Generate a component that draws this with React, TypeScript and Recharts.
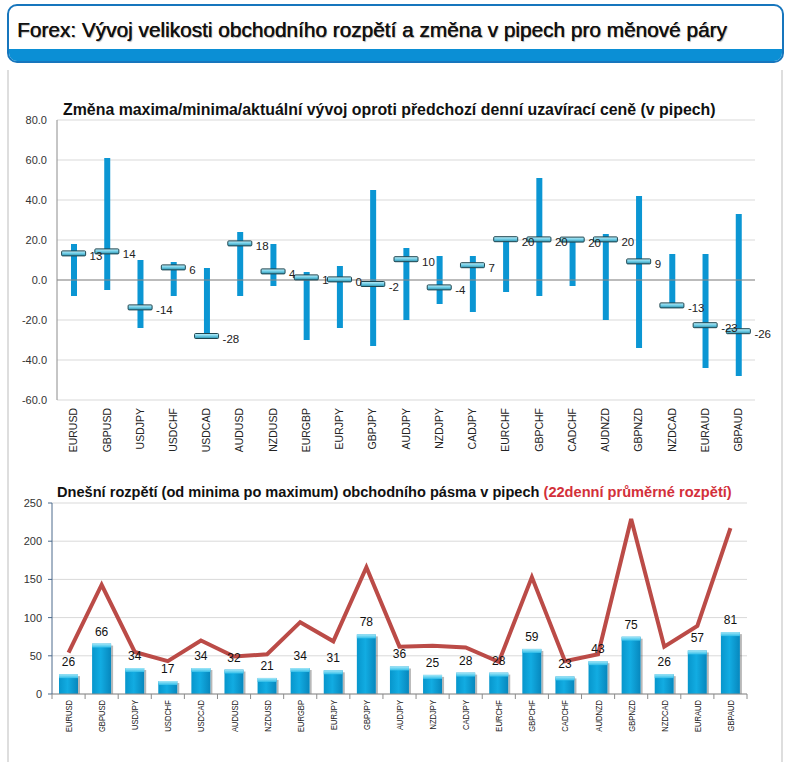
import React from 'react'
import { ComposedChart, Bar, Line, XAxis, YAxis, CartesianGrid, ReferenceLine, LabelList } from 'recharts'

const pairs = [
  'EURUSD', 'GBPUSD', 'USDJPY', 'USDCHF', 'USDCAD', 'AUDUSD', 'NZDUSD', 'EURGBP', 'EURJPY', 'GBPJPY', 'AUDJPY',
  'NZDJPY', 'CADJPY', 'EURCHF', 'GBPCHF', 'CADCHF', 'AUDNZD', 'GBPNZD', 'NZDCAD', 'EURAUD', 'GBPAUD',
]

// top chart: daily high / low / current change vs previous close (pips)
const highs = [18, 61, 10, 9, 6, 24, 18, 4, 7, 45, 16, 12, 12, 21, 51, 20, 23, 42, 13, 13, 33]
const lows = [-8, -5, -24, -8, -28, -8, -3, -30, -24, -33, -20, -12, -16, -6, -8, -3, -20, -34, -13, -44, -48]
const current = [13.3, 14.3, -13.7, 6.3, -28, 18.3, 4.3, 1.3, 0.3, -2, 10.4, -3.7, 7.4, 20.4, 20.3, 20.2, 20.3, 9.3, -12.7, -22.6, -25.6]
const topTicks = [-60, -40, -20, 0, 20, 40, 60, 80]

// bottom chart: today's range and 22-day average range
const spread = [26, 66, 34, 17, 34, 32, 21, 34, 31, 78, 36, 25, 28, 28, 59, 23, 43, 75, 26, 57, 81]
const avgRange = [54, 143, 55, 43, 70, 49, 52, 94, 69, 166, 62, 63, 61, 42, 153, 43, 52, 229, 62, 89, 217]
const bottomTicks = [0, 50, 100, 150, 200, 250]

const topData = pairs.map((p, i) => ({ pair: p, range: [lows[i], highs[i]], cur: current[i] }))
const bottomData = pairs.map((p, i) => ({ pair: p, spread: spread[i], avg: avgRange[i] }))

const FONT = '"Liberation Sans", Arial, sans-serif'
const BOTTOM_BAND = 695 / pairs.length

const TopTick = (props: any) => {
  const { x, y, payload } = props
  const ty = y + 8
  return (
    <text x={x} y={ty} transform={`rotate(-90, ${x}, ${ty})`} textAnchor="end" dy="0.35em"
      fontSize={10.5} fill="#222" fontFamily={FONT}>
      {payload.value}
    </text>
  )
}

const BottomTick = (props: any) => {
  const { x, y, payload, index } = props
  const ty = y + 6
  const last = index === pairs.length - 1
  return (
    <g>
      <line x1={x - BOTTOM_BAND / 2} x2={x - BOTTOM_BAND / 2} y1={y} y2={y + 5} stroke="#8c8c8c" />
      {last && <line x1={x + BOTTOM_BAND / 2} x2={x + BOTTOM_BAND / 2} y1={y} y2={y + 5} stroke="#8c8c8c" />}
      <text transform={`translate(${x}, ${ty}) rotate(-90) scale(0.8, 1.05)`} textAnchor="end" dy="0.35em"
        fontSize={9.5} fill="#222" fontFamily={FONT}>
        {payload.value}
      </text>
    </g>
  )
}

const Marker = (props: any) => {
  const { cx, cy, index } = props
  if (cx == null || cy == null) return <g key={index} />
  return (
    <rect key={index} x={cx - 12} y={cy - 2.5} width={24} height={5} rx={1}
      fill="url(#markerFill)" stroke="#1f4650" strokeWidth={1} />
  )
}

const MarkerLabel = (props: any) => {
  const { x, y, value } = props
  return (
    <text x={x + 16} y={y + 3} dy="0.35em" fontSize={11.5} fill="#222" fontFamily={FONT}>
      {Math.round(value)}
    </text>
  )
}

const CylBar = (props: any) => {
  const { x, y, width, height } = props
  if (!height || height <= 0) return null
  return (
    <g>
      <rect x={x + width} y={y + 2} width={2} height={height - 2} fill="#333" opacity={0.35} />
      <rect x={x} y={y} width={width} height={height} fill="url(#barBody)" />
      <rect x={x} y={y} width={width} height={4} fill="url(#barCap)" />
    </g>
  )
}

export default function App() {
  return (
    <div style={{ position: 'absolute', left: 0, top: 0, width: 798, height: 762, background: '#fff', overflow: 'hidden', fontFamily: FONT }}>
      <svg width={0} height={0} style={{ position: 'absolute' }}>
        <defs>
          <linearGradient id="markerFill" x1="0" y1="0" x2="0" y2="1">
            <stop offset="0%" stopColor="#c4f0fa" />
            <stop offset="50%" stopColor="#6fcde6" />
            <stop offset="100%" stopColor="#2b8eaa" />
          </linearGradient>
          <linearGradient id="barBody" x1="0" y1="0" x2="1" y2="0">
            <stop offset="0%" stopColor="#0796cc" />
            <stop offset="45%" stopColor="#12ace2" />
            <stop offset="100%" stopColor="#0787bd" />
          </linearGradient>
          <linearGradient id="barCap" x1="0" y1="0" x2="0" y2="1">
            <stop offset="0%" stopColor="#a5e8f8" />
            <stop offset="100%" stopColor="#30bde9" />
          </linearGradient>
        </defs>
      </svg>

      {/* header */}
      <div style={{ position: 'absolute', left: 7, top: 4, width: 773, height: 55, border: '2px solid #1776bd', borderRadius: 10, overflow: 'hidden', background: '#fff' }}>
        <div style={{ position: 'absolute', left: 0, right: 0, bottom: 0, height: 12, background: '#0b8fd5' }} />
        <div style={{ position: 'absolute', left: 8, top: 13, fontSize: 20.8, lineHeight: '21px', color: '#111', whiteSpace: 'nowrap', textShadow: '0.4px 0 0 #111, 1px 1px 1px rgba(0,0,0,0.35)' }}>
          Forex: Vývoj velikosti obchodního rozpětí a změna v pipech pro měnové páry
        </div>
      </div>

      {/* panel borders */}
      <div style={{ position: 'absolute', left: 7, top: 70, width: 2, height: 692, background: '#dedede' }} />
      <div style={{ position: 'absolute', left: 781, top: 70, width: 2, height: 692, background: '#dedede' }} />

      {/* titles */}
      <div style={{ position: 'absolute', left: 63, top: 101.5, fontSize: 15.9, lineHeight: '16px', fontWeight: 'bold', color: '#111', whiteSpace: 'nowrap' }}>
        Změna maxima/minima/aktuální vývoj oproti předchozí denní uzavírací ceně (v pipech)
      </div>
      <div style={{ position: 'absolute', left: 57, top: 483.5, fontSize: 14.6, lineHeight: '16px', fontWeight: 'bold', color: '#111', whiteSpace: 'nowrap' }}>
        Dnešní rozpětí (od minima po maximum) obchodního pásma v pipech{' '}
        <span style={{ color: '#d3303a' }}>(22denní průměrné rozpětí)</span>
      </div>

      {/* top chart */}
      <div style={{ position: 'absolute', left: 0, top: 88 }}>
        <ComposedChart width={798} height={372} data={topData} margin={{ top: 32, right: 43, bottom: 0, left: 0 }}>
          <CartesianGrid vertical={false} stroke="#d9d9d9" />
          <XAxis dataKey="pair" axisLine={false} tickLine={false} tickSize={0} tickMargin={0} interval={0} height={60} tick={<TopTick />} />
          <YAxis width={57} domain={[-60, 80]} ticks={topTicks} tickFormatter={(v: number) => v.toFixed(1)}
            axisLine={{ stroke: '#8c8c8c' }} tickLine={false} tickMargin={4}
            tick={{ fontSize: 11, fill: '#333', fontFamily: FONT }} />
          <ReferenceLine y={0} stroke="#8a8a8a" />
          <Bar dataKey="range" fill="#0b96d3" barSize={6} isAnimationActive={false} />
          <Line dataKey="cur" stroke="none" dot={<Marker />} activeDot={false} isAnimationActive={false}>
            <LabelList dataKey="cur" content={<MarkerLabel />} />
          </Line>
        </ComposedChart>
      </div>

      {/* bottom chart */}
      <div style={{ position: 'absolute', left: 0, top: 470 }}>
        <ComposedChart width={798} height={292} data={bottomData} margin={{ top: 33, right: 51, bottom: 0, left: 0 }}>
          <CartesianGrid vertical={false} stroke="#d9d9d9" />
          <XAxis dataKey="pair" axisLine={{ stroke: '#8c8c8c' }} tickLine={false} tickSize={0} tickMargin={0} interval={0} height={68} tick={<BottomTick />} />
          <YAxis width={52} domain={[0, 250]} ticks={bottomTicks} axisLine={{ stroke: '#4c6a8c' }}
            tickLine={{ stroke: '#4c6a8c' }} tickSize={4} tickMargin={6}
            tick={{ fontSize: 11, fill: '#333', fontFamily: FONT }} />
          <Bar dataKey="spread" barSize={19} shape={<CylBar />} isAnimationActive={false}>
            <LabelList dataKey="spread" position="top" offset={8} fontSize={12} fill="#111" fontFamily={FONT} />
          </Bar>
          <Line dataKey="avg" type="linear" stroke="#bb4b47" strokeWidth={4} dot={false} activeDot={false} isAnimationActive={false} />
        </ComposedChart>
      </div>
    </div>
  )
}
